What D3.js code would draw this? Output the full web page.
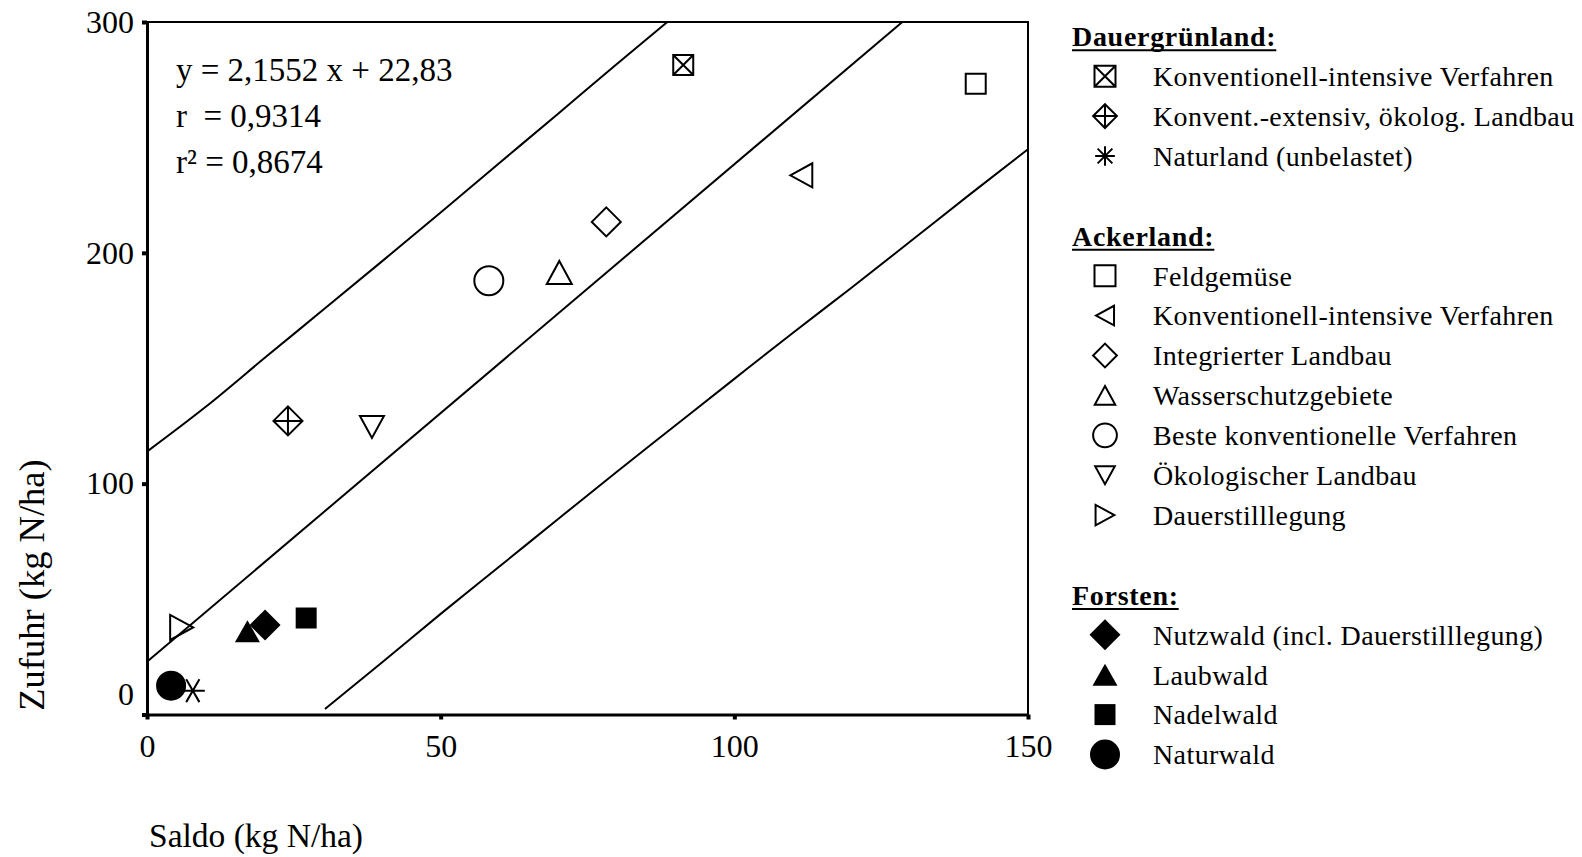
<!DOCTYPE html>
<html>
<head>
<meta charset="utf-8">
<script src="https://cdn.jsdelivr.net/npm/d3@7"></script>
<style>
  body { margin: 0; background: #fff; }
  text { font-family: "Liberation Serif", "Times New Roman", serif; fill: #000; }
</style>
</head>
<body>
<svg id="chart" width="1582" height="857"></svg>
<script>
// legend groups and the categories that belong to them
const groups = ["Dauergrünland:", "Ackerland:", "Forsten:"];
const categories = [
  "Konventionell-intensive Verfahren",
  "Konvent.-extensiv, ökolog. Landbau",
  "Naturland (unbelastet)",
  "Feldgemüse",
  "Konventionell-intensive Verfahren",
  "Integrierter Landbau",
  "Wasserschutzgebiete",
  "Beste konventionelle Verfahren",
  "Ökologischer Landbau",
  "Dauerstilllegung",
  "Nutzwald (incl. Dauerstilllegung)",
  "Laubwald",
  "Nadelwald",
  "Naturwald"
];
const categoryGroup = [0, 0, 0, 1, 1, 1, 1, 1, 1, 1, 2, 2, 2, 2];
const markerKinds = ["boxX", "diamondCross", "asterisk", "square", "triLeft", "diamond", "triUp",
                     "circle", "triDown", "triRight", "diamond", "triUp", "square", "circle"];
const markerFilled = [false, false, false, false, false, false, false, false, false, false, true, true, true, true];

// Saldo (x) and Zufuhr (y), kg N/ha
const saldo  = [91.3, 24.0, 7.8, 141.1, 111.4, 78.2, 70.2, 58.2, 38.3, 5.9, 20.1, 17.1, 27.1, 4.1];
const zufuhr = [281.4, 127.2, 10.3, 273.2, 233.6, 213.4, 191.5, 187.9, 124.6, 37.7, 38.8, 36.1, 41.8, 12.5];

// regression line and band
const statsLines = ["y = 2,1552 x + 22,83", "r  = 0,9314", "r² = 0,8674"];
const fitLine = [[0, 22.83], [128.6, 300]];
const upperBand = [[0, 113.9], [10, 133.3], [20, 154.4], [30, 175.3], [40, 196.3], [50, 217.5],
                   [60, 238.9], [70, 260.3], [80, 281.8], [88.6, 300]];
const lowerBand = [[30.3, 2.4], [40, 22.5], [50, 43.6], [60, 64.1], [70, 84.7], [80, 105.2],
                   [90, 125.3], [100, 145.4], [110, 165.4], [120, 185], [130, 205], [140, 225.1], [150, 244.9]];

const xTicks = [0, 50, 100, 150];
const yTicks = [0, 100, 200, 300];
const xTitle = "Saldo (kg N/ha)";
const yTitle = "Zufuhr (kg N/ha)";

// marker sizes in px (width, height)
const markerSize = {
  boxX: [20, 20], diamondCross: [29, 29], asterisk: [24, 24], square: [20, 20],
  triLeft: [22, 24], diamond: [29, 29], triUp: [25, 23], circle: [29, 29],
  triDown: [24, 22], triRight: [23, 25]
};
const filledSize = { diamond: [31, 31], triUp: [25, 22], square: [21, 21], circle: [30, 30] };

function markerPath(kind, w, h, inLegend) {
  const p = d3.path(), a = w / 2, b = h / 2;
  switch (kind) {
    case "square":
      p.rect(-a, -b, w, h); break;
    case "boxX":
      p.rect(-a, -b, w, h);
      p.moveTo(-a, -b); p.lineTo(a, b); p.moveTo(a, -b); p.lineTo(-a, b); break;
    case "diamond":
      p.moveTo(0, -b); p.lineTo(a, 0); p.lineTo(0, b); p.lineTo(-a, 0); p.closePath(); break;
    case "diamondCross":
      p.moveTo(0, -b); p.lineTo(a, 0); p.lineTo(0, b); p.lineTo(-a, 0); p.closePath();
      p.moveTo(0, -b); p.lineTo(0, b); p.moveTo(-a, 0); p.lineTo(a, 0); break;
    case "triUp":
      p.moveTo(0, -b); p.lineTo(a, b); p.lineTo(-a, b); p.closePath(); break;
    case "triDown":
      p.moveTo(-a, -b); p.lineTo(a, -b); p.lineTo(0, b); p.closePath(); break;
    case "triLeft":
      p.moveTo(-a, 0); p.lineTo(a, -b); p.lineTo(a, b); p.closePath(); break;
    case "triRight":
      p.moveTo(a, 0); p.lineTo(-a, -b); p.lineTo(-a, b); p.closePath(); break;
    case "circle":
      p.moveTo(a, 0); p.arc(0, 0, a, 0, 2 * Math.PI); break;
    case "asterisk": {
      p.moveTo(-a, 0); p.lineTo(a, 0);
      const dx = inLegend ? a * 0.75 : a * 0.55, dy = inLegend ? b * 0.75 : b * 0.95;
      p.moveTo(-dx, -dy); p.lineTo(dx, dy); p.moveTo(dx, -dy); p.lineTo(-dx, dy);
      if (inLegend) { p.moveTo(0, -b); p.lineTo(0, b); }
      break;
    }
  }
  return p.toString();
}

const svg = d3.select("#chart");
svg.append("rect").attr("width", 1582).attr("height", 857).attr("fill", "#fff");

const margin = { left: 147, right: 1028, top: 22, bottom: 714.5 };
const x = d3.scaleLinear().domain([0, 150]).range([margin.left, margin.right]);
const y = d3.scaleLinear().domain([0, 300]).range([margin.bottom, margin.top]);

// frame (top and right)
svg.append("path")
  .attr("d", `M${x(0)},${y(300)}H${x(150)}V${y(0)}`)
  .attr("fill", "none").attr("stroke", "#000").attr("stroke-width", 2);

// axes
const xAxis = svg.append("g")
  .attr("transform", `translate(0,${margin.bottom})`)
  .call(d3.axisBottom(x).tickValues(xTicks).tickSize(5).tickSizeOuter(0).tickPadding(15));
const yAxis = svg.append("g")
  .attr("transform", `translate(${margin.left},0)`)
  .call(d3.axisLeft(y).tickValues(yTicks).tickSize(5).tickSizeOuter(0).tickPadding(8));

[xAxis, yAxis].forEach(g => {
  g.select(".domain").attr("stroke", "#000").attr("stroke-width", 3);
  g.selectAll(".tick line").attr("stroke", "#000").attr("stroke-width", 4);
  g.selectAll(".tick text").style("font-family", '"Liberation Serif", "Times New Roman", serif')
    .style("font-size", "32px").attr("fill", "#000");
});
// y label "0" sits above its tick in the original
yAxis.selectAll(".tick text").filter(d => d === 0).attr("y", -20);

// regression line and band
const line = d3.line().x(d => x(d[0])).y(d => y(d[1]));
svg.append("path").attr("d", line(fitLine))
  .attr("fill", "none").attr("stroke", "#000").attr("stroke-width", 2);
const bandLine = d3.line().x(d => x(d[0])).y(d => y(d[1])).curve(d3.curveMonotoneX);
[upperBand, lowerBand].forEach(pts => {
  svg.append("path").attr("d", bandLine(pts))
    .attr("fill", "none").attr("stroke", "#000").attr("stroke-width", 2);
});

// equation text
svg.append("g").selectAll("text").data(statsLines).join("text")
  .attr("x", 176)
  .attr("y", (d, i) => 69 + i * 46)
  .attr("dy", "0.35em")
  .style("font-size", "33px")
  .style("white-space", "pre")
  .text(d => d);

// markers
const sizeOf = i => markerFilled[i] ? filledSize[markerKinds[i]] : markerSize[markerKinds[i]];
svg.append("g").selectAll("path").data(d3.range(categories.length)).join("path")
  .attr("transform", i => `translate(${x(saldo[i])},${y(zufuhr[i])})`)
  .attr("d", i => markerPath(markerKinds[i], sizeOf(i)[0], sizeOf(i)[1], false))
  .attr("fill", i => markerFilled[i] ? "#000" : "none")
  .attr("stroke", i => markerFilled[i] ? "none" : "#000")
  .attr("stroke-width", 2);

// axis titles
svg.append("text")
  .attr("x", 149).attr("y", 835).attr("dy", "0.35em")
  .style("font-size", "33.5px")
  .text(xTitle);
svg.append("text")
  .attr("transform", "translate(31,585) rotate(-90)")
  .attr("text-anchor", "middle").attr("dy", "0.35em")
  .style("font-size", "36.5px")
  .text(yTitle);

// legend
const legend = svg.append("g");
const rowY = r => 36.3 + r * 39.9;
let row = 0;
groups.forEach((gName, gi) => {
  const hy = rowY(row);
  const ht = legend.append("text")
    .attr("x", 1072).attr("y", hy).attr("dy", "0.35em")
    .style("font-size", "28px").style("font-weight", "bold").style("letter-spacing", "0.7px")
    .text(gName);
  const len = ht.node().getComputedTextLength();
  legend.append("line")
    .attr("x1", 1072).attr("x2", 1072 + len)
    .attr("y1", hy + 14).attr("y2", hy + 14)
    .attr("stroke", "#000").attr("stroke-width", 2);
  row++;
  categories.forEach((c, i) => {
    if (categoryGroup[i] !== gi) return;
    const cy = rowY(row);
    const sz = sizeOf(i);
    const k = markerFilled[i] ? 1 : (markerKinds[i] === "square" || markerKinds[i] === "boxX" ? 1.05 : 0.82);
    legend.append("path")
      .attr("transform", `translate(1105,${cy})`)
      .attr("d", markerPath(markerKinds[i], sz[0] * k, sz[1] * k, true))
      .attr("fill", markerFilled[i] ? "#000" : "none")
      .attr("stroke", markerFilled[i] ? "none" : "#000")
      .attr("stroke-width", 2);
    legend.append("text")
      .attr("x", 1153).attr("y", cy).attr("dy", "0.35em")
      .style("font-size", "28px").style("letter-spacing", "0.4px")
      .text(c);
    row++;
  });
  row++;
});
</script>
</body>
</html>
